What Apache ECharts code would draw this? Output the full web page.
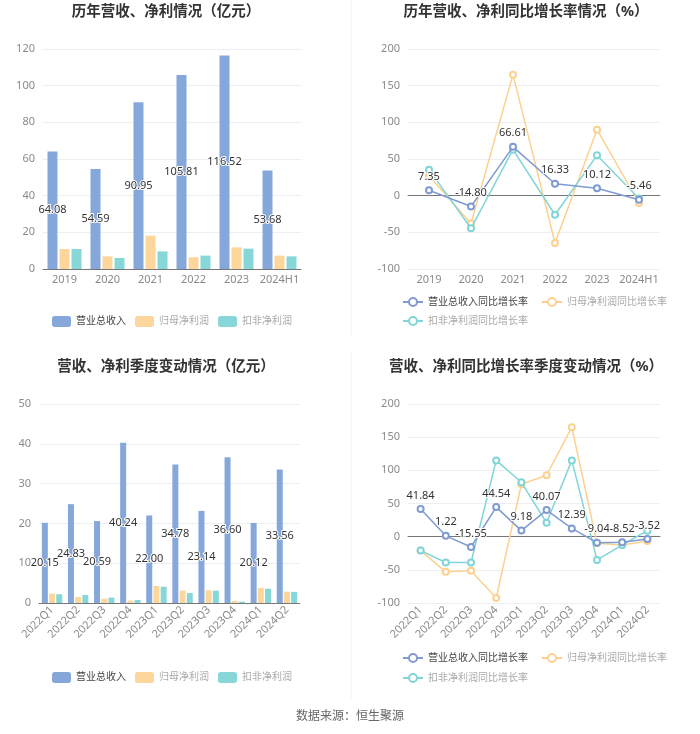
<!DOCTYPE html>
<html>
<head>
<meta charset="utf-8">
<script src="https://cdn.jsdelivr.net/npm/echarts@6/dist/echarts.min.js"></script>
<style>
html,body{margin:0;padding:0;background:#fff;}
#main{width:700px;height:734px;}
</style>
</head>
<body>
<div id="main"></div>
<script>
// ---- data ----
var years = ['2019', '2020', '2021', '2022', '2023', '2024H1'];
var annualRevenue = [64.08, 54.59, 90.95, 105.81, 116.52, 53.68];
var annualNetProfit = [10.9, 6.9, 18.2, 6.4, 11.8, 7.3];
var annualDeductedProfit = [10.9, 6.0, 9.6, 7.3, 11.1, 6.9];

var annualRevenueGrowth = [7.35, -14.80, 66.61, 16.33, 10.12, -5.46];
var annualNetProfitGrowth = [27, -38, 165, -64.5, 90, -10];
var annualDeductedGrowth = [35.5, -44.5, 62.7, -26, 55, -4];

var quarters = ['2022Q1', '2022Q2', '2022Q3', '2022Q4', '2023Q1', '2023Q2', '2023Q3', '2023Q4', '2024Q1', '2024Q2'];
var quarterRevenue = [20.15, 24.83, 20.59, 40.24, 22.00, 34.78, 23.14, 36.60, 20.12, 33.56];
var quarterNetProfit = [2.35, 1.5, 1.1, 0.6, 4.3, 3.1, 3.2, 0.5, 3.8, 2.85];
var quarterDeductedProfit = [2.2, 2.0, 1.35, 0.75, 4.1, 2.5, 3.1, 0.35, 3.6, 2.8];

var quarterRevenueGrowth = [41.84, 1.22, -15.55, 44.54, 9.18, 40.07, 12.39, -9.04, -8.52, -3.52];
var quarterNetProfitGrowth = [-21, -53, -51.5, -92.5, 79, 92.6, 165, -10, -12.6, -6.5];
var quarterDeductedGrowth = [-21, -39, -39, 115, 82, 21, 115, -35, -12.6, 9];

var barNames = ['营业总收入', '归母净利润', '扣非净利润'];
var lineNames = ['营业总收入同比增长率', '归母净利润同比增长率', '扣非净利润同比增长率'];
var titles = ['历年营收、净利情况（亿元）', '历年营收、净利同比增长率情况（%）', '营收、净利季度变动情况（亿元）', '营收、净利同比增长率季度变动情况（%）'];
var sourceText = '数据来源：恒生聚源';

// ---- style ----
var FONT = '"Noto Sans", "Noto Sans CJK SC", sans-serif';
var C_BLUE = '#86a7da', C_ORANGE = '#fdd69b', C_TEAL = '#88d7d8';
var L_BLUE = '#7f9bd3', L_ORANGE = '#fcd190', L_TEAL = '#80d5d8';
var labelColor = '#8a8a8a';
var splitColor = '#eceef2';
var axisColor = '#777';

var chart = echarts.init(document.getElementById('main'));

function yAxis(grid, min, max, interval) {
  return {
    type: 'value', gridIndex: grid, min: min, max: max, interval: interval,
    axisLine: {show: false}, axisTick: {show: false},
    axisLabel: {color: labelColor, fontSize: 11, margin: 8},
    splitLine: {lineStyle: {color: splitColor}}
  };
}

function barLabel() {
  return {
    show: true, position: 'inside', color: '#333', fontSize: 11,
    textBorderColor: '#fff', textBorderWidth: 2,
    formatter: function (p) { return p.value.toFixed(2); }
  };
}
function lineLabel() {
  return {
    show: true, position: 'top', color: '#333', fontSize: 11,
    textBorderColor: '#fff', textBorderWidth: 2, distance: 4,
    formatter: function (p) { return p.value.toFixed(2); }
  };
}

function barSeries(x, y, a, b, c, bw) {
  return [
    {name: barNames[0], type: 'bar', xAxisIndex: x, yAxisIndex: y, data: a, barWidth: bw, barGap: '20%', itemStyle: {color: C_BLUE}, label: barLabel(), z: 2},
    {name: barNames[1], type: 'bar', xAxisIndex: x, yAxisIndex: y, data: b, barWidth: bw, barGap: '20%', itemStyle: {color: C_ORANGE}},
    {name: barNames[2], type: 'bar', xAxisIndex: x, yAxisIndex: y, data: c, barWidth: bw, barGap: '20%', itemStyle: {color: C_TEAL}}
  ];
}
function lineSeries(x, y, a, b, c) {
  var base = {type: 'line', xAxisIndex: x, yAxisIndex: y, symbol: 'emptyCircle', symbolSize: 6};
  return [
    Object.assign({}, base, {name: lineNames[1], data: b, itemStyle: {color: L_ORANGE}, lineStyle: {color: L_ORANGE, width: 1.5}, z: 2}),
    Object.assign({}, base, {name: lineNames[2], data: c, itemStyle: {color: L_TEAL}, lineStyle: {color: L_TEAL, width: 1.5}, z: 3}),
    Object.assign({}, base, {name: lineNames[0], data: a, itemStyle: {color: L_BLUE}, lineStyle: {color: L_BLUE, width: 1.5}, label: lineLabel(), z: 4})
  ];
}

function barLegend(top) {
  return {
    left: 52, top: top, padding: 0, itemWidth: 19, itemHeight: 11, itemGap: 9,
    icon: 'roundRect',
    textStyle: {fontSize: 10, fontFamily: FONT},
    data: [
      {name: barNames[0], textStyle: {color: '#444'}},
      {name: barNames[1], textStyle: {color: '#aaa'}},
      {name: barNames[2], textStyle: {color: '#aaa'}}
    ]
  };
}
function lineLegend(top, names, colors) {
  return {
    left: 402, top: top, padding: 0, itemWidth: 20, itemHeight: 10, itemGap: 13,
    textStyle: {fontSize: 10, fontFamily: FONT},
    data: names.map(function (n, i) {
      return {name: n, textStyle: {color: colors[i]}};
    })
  };
}

var option = {
  animation: false,
  backgroundColor: '#fff',
  textStyle: {fontFamily: FONT},
  grid: [
    {left: 43, top: 49, width: 258, height: 220},
    {left: 408, top: 49, width: 252, height: 220},
    {left: 39, top: 404, width: 261, height: 199},
    {left: 408, top: 404, width: 252, height: 199}
  ],
  xAxis: [
    {type: 'category', gridIndex: 0, data: years,
      axisLine: {lineStyle: {color: axisColor}}, axisTick: {alignWithLabel: true, length: 4, lineStyle: {color: axisColor}},
      axisLabel: {color: labelColor, fontSize: 11, margin: 5, interval: 0}},
    {type: 'category', gridIndex: 1, data: years,
      axisLine: {onZero: true, lineStyle: {color: axisColor}}, axisTick: {alignWithLabel: true, length: 4, lineStyle: {color: axisColor}},
      axisLabel: {show: false}},
    {type: 'category', gridIndex: 1, data: years, position: 'bottom',
      axisLine: {show: false, onZero: false}, axisTick: {show: false},
      axisLabel: {color: labelColor, fontSize: 11, margin: 5, interval: 0}},
    {type: 'category', gridIndex: 2, data: quarters,
      axisLine: {lineStyle: {color: axisColor}}, axisTick: {alignWithLabel: true, length: 4, lineStyle: {color: axisColor}},
      axisLabel: {color: labelColor, fontSize: 11, margin: 5, rotate: 45, interval: 0}},
    {type: 'category', gridIndex: 3, data: quarters,
      axisLine: {onZero: true, lineStyle: {color: axisColor}}, axisTick: {alignWithLabel: true, length: 4, lineStyle: {color: axisColor}},
      axisLabel: {show: false}},
    {type: 'category', gridIndex: 3, data: quarters, position: 'bottom',
      axisLine: {show: false, onZero: false}, axisTick: {show: false},
      axisLabel: {color: labelColor, fontSize: 11, margin: 5, rotate: 45, interval: 0}}
  ],
  yAxis: [
    yAxis(0, 0, 120, 20),
    yAxis(1, -100, 200, 50),
    yAxis(2, 0, 50, 10),
    yAxis(3, -100, 200, 50)
  ],
  legend: [
    barLegend(316),
    lineLegend(297, [lineNames[0], lineNames[1]], ['#444', '#aaa']),
    lineLegend(316, [lineNames[2]], ['#aaa']),
    barLegend(672),
    lineLegend(653, [lineNames[0], lineNames[1]], ['#444', '#aaa']),
    lineLegend(673, [lineNames[2]], ['#aaa'])
  ],
  series: [].concat(
    barSeries(0, 0, annualRevenue, annualNetProfit, annualDeductedProfit, 10),
    lineSeries(1, 1, annualRevenueGrowth, annualNetProfitGrowth, annualDeductedGrowth),
    barSeries(3, 2, quarterRevenue, quarterNetProfit, quarterDeductedProfit, 6),
    lineSeries(4, 3, quarterRevenueGrowth, quarterNetProfitGrowth, quarterDeductedGrowth)
  ),
  graphic: [
    {type: 'line', shape: {x1: 351, y1: 0, x2: 351, y2: 336}, style: {stroke: '#f2f2f2', lineWidth: 1}, silent: true},
    {type: 'line', shape: {x1: 351, y1: 352, x2: 351, y2: 700}, style: {stroke: '#f2f2f2', lineWidth: 1}, silent: true},
    {type: 'text', x: 166, y: 12, style: {text: titles[0], textAlign: 'center', textVerticalAlign: 'middle', font: 'bold 14.5px ' + FONT, fill: '#333'}},
    {type: 'text', x: 526, y: 12, style: {text: titles[1], textAlign: 'center', textVerticalAlign: 'middle', font: 'bold 14.5px ' + FONT, fill: '#333'}},
    {type: 'text', x: 166, y: 367, style: {text: titles[2], textAlign: 'center', textVerticalAlign: 'middle', font: 'bold 14.5px ' + FONT, fill: '#333'}},
    {type: 'text', x: 526, y: 367, style: {text: titles[3], textAlign: 'center', textVerticalAlign: 'middle', font: 'bold 14.5px ' + FONT, fill: '#333'}},
    {type: 'text', x: 350, y: 717, style: {text: sourceText, textAlign: 'center', textVerticalAlign: 'middle', font: '12px ' + FONT, fill: '#666'}}
  ]
};
chart.setOption(option);
</script>
</body>
</html>
